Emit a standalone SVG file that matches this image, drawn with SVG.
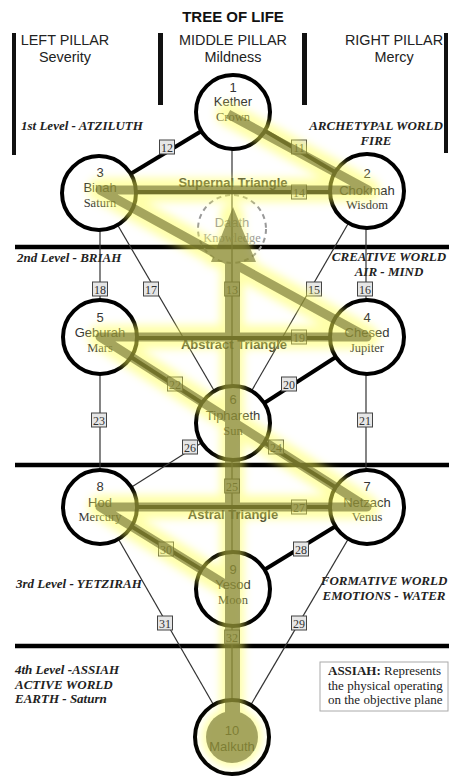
<svg xmlns="http://www.w3.org/2000/svg" width="449" height="776" viewBox="0 0 449 776">
<defs>
<style>
.hdr{font-family:"Liberation Sans",Arial,sans-serif;font-size:14.4px;fill:#222;text-anchor:middle}
.title{font-family:"Liberation Sans",Arial,sans-serif;font-size:15px;font-weight:bold;fill:#111;text-anchor:middle}
.lvl{font-family:"Liberation Serif","Times New Roman",serif;font-size:13px;font-weight:bold;font-style:italic;fill:#222}
.wld{font-family:"Liberation Serif","Times New Roman",serif;font-size:13px;font-weight:bold;font-style:italic;fill:#222;text-anchor:middle}
.bar{fill:#111}
.level{stroke:#000;stroke-width:4.5}
.thin{stroke:#333;stroke-width:1.2;fill:none}
.thick{stroke:#000;stroke-width:4;fill:none}
.sph{fill:#fff;stroke:#000;stroke-width:4}
.num{font-family:"Liberation Sans",Arial,sans-serif;font-size:13px;fill:#333;text-anchor:middle}
.nm{font-family:"Liberation Sans",Arial,sans-serif;font-size:13px;fill:#333;text-anchor:middle}
.pl{font-family:"Liberation Serif","Times New Roman",serif;font-size:12.5px;fill:#333;text-anchor:middle}
.pbox{fill:#e6e6e6;stroke:#444;stroke-width:1}
.ptxt{font-family:"Liberation Serif","Times New Roman",serif;font-size:12px;fill:#333;text-anchor:middle}
.tri{font-family:"Liberation Sans",Arial,sans-serif;font-size:13px;font-weight:bold;fill:#333;text-anchor:middle}
.glow{stroke:#ffff55;stroke-width:24;fill:none;stroke-linejoin:round;stroke-linecap:round}
.flash{stroke:#6b6b2b;stroke-width:9;fill:none;stroke-linejoin:round;stroke-linecap:butt}
.box{font-family:"Liberation Serif","Times New Roman",serif;font-size:13px;fill:#222}
</style>
<filter id="blur" x="-20%" y="-20%" width="140%" height="140%"><feGaussianBlur stdDeviation="4"/></filter>
</defs>
<rect width="449" height="776" fill="#fff"/>

<g id="headers">
<text class="title" x="233" y="22">TREE OF LIFE</text>
<rect class="bar" x="12" y="33" width="4" height="122"/>
<rect class="bar" x="158" y="33" width="5" height="72"/>
<rect class="bar" x="302" y="33" width="5" height="72"/>
<rect class="bar" x="444" y="33" width="4" height="120"/>
<text class="hdr" x="65" y="45">LEFT PILLAR</text>
<text class="hdr" x="65" y="62">Severity</text>
<text class="hdr" x="233" y="45">MIDDLE PILLAR</text>
<text class="hdr" x="233" y="62">Mildness</text>
<text class="hdr" x="394" y="45">RIGHT PILLAR</text>
<text class="hdr" x="394" y="62">Mercy</text>
</g>

<g id="levels">
<line class="level" x1="15" y1="247" x2="449" y2="247"/>
<line class="level" x1="15" y1="465" x2="449" y2="465"/>
<line class="level" x1="15" y1="646" x2="449" y2="646"/>
<text class="lvl" x="21" y="130">1st Level - ATZILUTH</text>
<text class="wld" x="376" y="130">ARCHETYPAL WORLD</text>
<text class="wld" x="376" y="145">FIRE</text>
<text class="lvl" x="17" y="262">2nd Level - BRIAH</text>
<text class="wld" x="389" y="261">CREATIVE WORLD</text>
<text class="wld" x="389" y="276">AIR - MIND</text>
<text class="lvl" x="16" y="588">3rd Level - YETZIRAH</text>
<text class="wld" x="384" y="585">FORMATIVE WORLD</text>
<text class="wld" x="384" y="600">EMOTIONS - WATER</text>
<text class="lvl" x="15" y="674">4th Level -ASSIAH</text>
<text class="lvl" x="15" y="689">ACTIVE WORLD</text>
<text class="lvl" x="15" y="703">EARTH - Saturn</text>
</g>

<g id="assiah-note">
<rect x="320" y="662" width="128" height="49" fill="#fff" stroke="#aaa" stroke-width="1"/>
<text class="box" x="328" y="675"><tspan font-weight="bold">ASSIAH:</tspan> Represents</text>
<text class="box" x="328" y="690">the physical operating</text>
<text class="box" x="328" y="704">on the objective plane</text>
</g>

<g id="connectors">
<line class="thin" x1="232" y1="112" x2="232" y2="737"/>
<line class="thin" x1="99" y1="193" x2="233" y2="423"/>
<line class="thin" x1="367" y1="191" x2="233" y2="423"/>
<line class="thin" x1="100" y1="193" x2="100" y2="507"/>
<line class="thin" x1="366" y1="191" x2="366" y2="507"/>
<line class="thin" x1="100" y1="507" x2="233" y2="423"/>
<line class="thin" x1="367" y1="507" x2="232" y2="737"/>
<line class="thin" x1="100" y1="507" x2="232" y2="737"/>
<line class="thick" x1="233" y1="112" x2="99" y2="193"/>
<line class="thick" x1="233" y1="112" x2="367" y2="191"/>
<line class="thick" x1="99" y1="192" x2="367" y2="192"/>
<line class="thick" x1="100" y1="338" x2="367" y2="338"/>
<line class="thick" x1="367" y1="337" x2="233" y2="423"/>
<line class="thick" x1="100" y1="337" x2="233" y2="423"/>
<line class="thick" x1="233" y1="423" x2="367" y2="507"/>
<line class="thick" x1="100" y1="507" x2="367" y2="507"/>
<line class="thick" x1="367" y1="507" x2="233" y2="589"/>
<line class="thick" x1="100" y1="507" x2="233" y2="589"/>
</g>

<g id="daath">
<circle cx="232" cy="229" r="34" fill="none" stroke="#999" stroke-width="2" stroke-dasharray="5,4"/>
<text class="nm" x="232" y="227" style="fill:#999">Daath</text>
<text class="pl" x="232" y="242" style="fill:#999">Knowledge</text>
</g>

<g id="triangle-labels">
<text class="tri" x="233" y="187">Supernal Triangle</text>
<text class="tri" x="234" y="349">Abstract Triangle</text>
<text class="tri" x="233" y="519">Astral Triangle</text>
</g>

<g id="s1"><circle class="sph" cx="233" cy="112" r="37"/><text class="num" x="233" y="92">1</text><text class="nm" x="233" y="106">Kether</text><text class="pl" x="233" y="121">Crown</text></g>
<g id="s2"><circle class="sph" cx="367" cy="191" r="37"/><text class="num" x="367" y="178">2</text><text class="nm" x="367" y="195">Chokmah</text><text class="pl" x="367" y="209">Wisdom</text></g>
<g id="s3"><circle class="sph" cx="99" cy="193" r="37"/><text class="num" x="100" y="177">3</text><text class="nm" x="100" y="192">Binah</text><text class="pl" x="100" y="207">Saturn</text></g>
<g id="s4"><circle class="sph" cx="367" cy="337" r="37"/><text class="num" x="367" y="322">4</text><text class="nm" x="367" y="337">Chesed</text><text class="pl" x="367" y="352">Jupiter</text></g>
<g id="s5"><circle class="sph" cx="100" cy="337" r="37"/><text class="num" x="100" y="322">5</text><text class="nm" x="100" y="337">Geburah</text><text class="pl" x="100" y="352">Mars</text></g>
<g id="s6"><circle class="sph" cx="233" cy="423" r="37"/><text class="num" x="233" y="404">6</text><text class="nm" x="233" y="420">Tiphareth</text><text class="pl" x="233" y="435">Sun</text></g>
<g id="s7"><circle class="sph" cx="367" cy="507" r="37"/><text class="num" x="367" y="491">7</text><text class="nm" x="367" y="507">Netzach</text><text class="pl" x="367" y="521">Venus</text></g>
<g id="s8"><circle class="sph" cx="100" cy="507" r="37"/><text class="num" x="100" y="491">8</text><text class="nm" x="100" y="507">Hod</text><text class="pl" x="100" y="521">Mercury</text></g>
<g id="s9"><circle class="sph" cx="233" cy="589" r="37"/><text class="num" x="233" y="574">9</text><text class="nm" x="233" y="589">Yesod</text><text class="pl" x="233" y="604">Moon</text></g>
<g id="s10"><circle class="sph" cx="232" cy="737" r="37"/><text class="num" x="232" y="735">10</text><text class="nm" x="232" y="751">Malkuth</text></g>

<g id="paths">
<g><rect class="pbox" x="291.5" y="140" width="15" height="14"/><text class="ptxt" x="299" y="151.5">11</text></g>
<g><rect class="pbox" x="159.5" y="140" width="15" height="14"/><text class="ptxt" x="167" y="151.5">12</text></g>
<g><rect class="pbox" x="224.5" y="282" width="15" height="14"/><text class="ptxt" x="232" y="293.5">13</text></g>
<g><rect class="pbox" x="291.5" y="185" width="15" height="14"/><text class="ptxt" x="299" y="196.5">14</text></g>
<g><rect class="pbox" x="306.5" y="282" width="15" height="14"/><text class="ptxt" x="314" y="293.5">15</text></g>
<g><rect class="pbox" x="357.5" y="282" width="15" height="14"/><text class="ptxt" x="365" y="293.5">16</text></g>
<g><rect class="pbox" x="143.5" y="282" width="15" height="14"/><text class="ptxt" x="151" y="293.5">17</text></g>
<g><rect class="pbox" x="92.5" y="282" width="15" height="14"/><text class="ptxt" x="100" y="293.5">18</text></g>
<g><rect class="pbox" x="291.5" y="330" width="15" height="14"/><text class="ptxt" x="299" y="341.5">19</text></g>
<g><rect class="pbox" x="281.5" y="377" width="15" height="14"/><text class="ptxt" x="289" y="388.5">20</text></g>
<g><rect class="pbox" x="357.5" y="413" width="15" height="14"/><text class="ptxt" x="365" y="424.5">21</text></g>
<g><rect class="pbox" x="167.5" y="377" width="15" height="14"/><text class="ptxt" x="175" y="388.5">22</text></g>
<g><rect class="pbox" x="91.5" y="413" width="15" height="14"/><text class="ptxt" x="99" y="424.5">23</text></g>
<g><rect class="pbox" x="268.5" y="440" width="15" height="14"/><text class="ptxt" x="276" y="451.5">24</text></g>
<g><rect class="pbox" x="224.5" y="479" width="15" height="14"/><text class="ptxt" x="232" y="490.5">25</text></g>
<g><rect class="pbox" x="182.5" y="440" width="15" height="14"/><text class="ptxt" x="190" y="451.5">26</text></g>
<g><rect class="pbox" x="291.5" y="500" width="15" height="14"/><text class="ptxt" x="299" y="511.5">27</text></g>
<g><rect class="pbox" x="293.5" y="542" width="15" height="14"/><text class="ptxt" x="301" y="553.5">28</text></g>
<g><rect class="pbox" x="291.5" y="616" width="15" height="14"/><text class="ptxt" x="299" y="627.5">29</text></g>
<g><rect class="pbox" x="158.5" y="542" width="15" height="14"/><text class="ptxt" x="166" y="553.5">30</text></g>
<g><rect class="pbox" x="157.5" y="616" width="15" height="14"/><text class="ptxt" x="165" y="627.5">31</text></g>
<g><rect class="pbox" x="224.5" y="630" width="15" height="14"/><text class="ptxt" x="232" y="641.5">32</text></g>
</g>

<g id="lightning-flash">
<g filter="url(#blur)" opacity="0.5">
<polyline class="glow" points="228,114 368,190 100,190 367,337 100,337 367,507 100,507 233,589"/>
<line class="glow" x1="232" y1="215" x2="232" y2="737"/>
<polygon points="233,200 206,266 258,266" fill="#ffff55"/>
<circle cx="232" cy="737" r="30" fill="#ffff55"/>
</g>
<g opacity="0.6">
<polyline class="flash" points="228,114 368,190 100,190 367,337 100,337 367,507 100,507 233,589"/>
<rect x="225" y="258" width="15" height="479" fill="#6b6b2b"/>
<polygon points="233,207 211,262 256,262" fill="#6b6b2b"/>
<circle cx="232" cy="737" r="26" fill="#6b6b2b"/>
</g>
</g>
</svg>
